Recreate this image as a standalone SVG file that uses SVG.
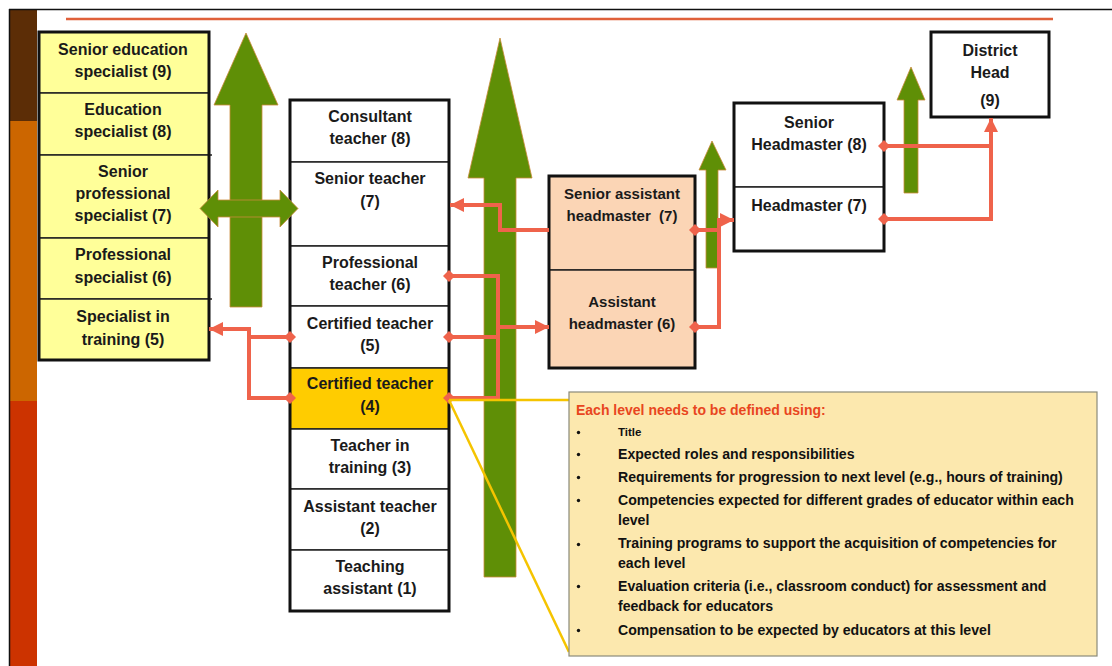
<svg xmlns="http://www.w3.org/2000/svg" width="1112" height="666" viewBox="0 0 1112 666">
<style>
.t{font-family:"Liberation Sans",Arial,sans-serif;font-weight:bold;font-size:16px;fill:#1a1a1a;text-anchor:middle}
.ts{font-size:15px}
.cell{stroke:#222;stroke-width:1.5}
.outer{fill:none;stroke:#111;stroke-width:3}
.yel{fill:#ffff99}
.wht{fill:#ffffff}
.peach{fill:#fbd5b5}
.gold{fill:#ffcc00}
.green{fill:#5f8f06;stroke:#c98a3a;stroke-width:0.8}
.conn{fill:none;stroke:#ef634b;stroke-width:4}
.call{fill:none;stroke:#f5c400;stroke-width:2.5}
.ct{font-family:"Liberation Sans",Arial,sans-serif;font-weight:bold;font-size:14.1px;fill:#111}
.bul{fill:#111}
</style>
<defs>
<marker id="arr" viewBox="0 0 10 10" refX="10" refY="5" markerWidth="3.6" markerHeight="3.6" orient="auto"><path d="M0,0 L10,5 L0,10 z" fill="#ef634b"/></marker>
<marker id="dia" viewBox="0 0 10 10" refX="5" refY="5" markerWidth="3" markerHeight="3" orient="auto"><path d="M5,0 L10,5 L5,10 L0,5 z" fill="#ef634b"/></marker>
</defs>
<rect width="1112" height="666" fill="#ffffff"/>
<!-- slide frame -->
<g id="frame">
<rect x="10" y="10" width="27" height="111" fill="#5c2d06"/>
<rect x="10" y="121" width="27" height="280" fill="#cc6600"/>
<rect x="10" y="401" width="27" height="265" fill="#cc3300"/>
<line x1="9" y1="9.5" x2="1112" y2="9.5" stroke="#111" stroke-width="1.5"/>
<line x1="9.5" y1="9" x2="9.5" y2="666" stroke="#111" stroke-width="1.5"/>
<line x1="66" y1="19" x2="1053" y2="19" stroke="#e0603a" stroke-width="2.5"/>
</g>
<!-- green progression arrows (behind) -->
<g id="arrows-green">
<polygon class="green" points="230,307 230,105 214,105 246,33 278,105 262,105 262,307"/>
<polygon class="green" points="484,577 484,178 468,178 500,38 532,178 516,178 516,577"/>
<polygon class="green" points="706,268 706,170 699,170 712,141 726,170 718,170 718,268"/>
<polygon class="green" points="904,193 904,100 897,100 911,67 925,100 918,100 918,193"/>
</g>
<!-- specialist column -->
<g id="senior-education-specialist"><rect class="cell yel" x="39" y="32" width="170" height="61"/><text class="t" x="123" y="55">Senior education</text><text class="t" x="123" y="77">specialist (9)</text></g>
<g id="education-specialist"><rect class="cell yel" x="39" y="93" width="170" height="62"/><text class="t" x="123" y="115">Education</text><text class="t" x="123" y="137">specialist (8)</text></g>
<g id="senior-professional-specialist"><rect class="cell yel" x="39" y="155" width="170" height="83"/><line x1="209" y1="155" x2="212" y2="155" stroke="#222" stroke-width="1.5"/><text class="t" x="123" y="177">Senior</text><text class="t" x="123" y="199">professional</text><text class="t" x="123" y="221">specialist (7)</text></g>
<g id="professional-specialist"><rect class="cell yel" x="39" y="238" width="170" height="61"/><text class="t" x="123" y="260">Professional</text><text class="t" x="123" y="283">specialist (6)</text></g>
<g id="specialist-in-training"><rect class="cell yel" x="39" y="299" width="170" height="61"/><line x1="209" y1="299" x2="212" y2="299" stroke="#222" stroke-width="1.5"/><text class="t" x="123" y="322">Specialist in</text><text class="t" x="123" y="345">training (5)</text></g>
<rect class="outer" x="39" y="32" width="170" height="328"/>
<!-- teacher column -->
<g id="consultant-teacher"><rect class="cell wht" x="290" y="100" width="159" height="62"/><text class="t" x="370" y="122">Consultant</text><text class="t" x="370" y="144">teacher (8)</text></g>
<g id="senior-teacher"><rect class="cell wht" x="290" y="162" width="159" height="84"/><text class="t" x="370" y="184">Senior teacher</text><text class="t" x="370" y="207">(7)</text></g>
<g id="professional-teacher"><rect class="cell wht" x="290" y="246" width="159" height="60"/><text class="t" x="370" y="268">Professional</text><text class="t" x="370" y="290">teacher (6)</text></g>
<g id="certified-teacher-5"><rect class="cell wht" x="290" y="306" width="159" height="62"/><text class="t" x="370" y="329">Certified teacher</text><text class="t" x="370" y="351">(5)</text></g>
<g id="certified-teacher-4"><rect class="cell gold" x="290" y="368" width="159" height="61"/><text class="t" x="370" y="389">Certified teacher</text><text class="t" x="370" y="412">(4)</text></g>
<g id="teacher-in-training"><rect class="cell wht" x="290" y="429" width="159" height="60"/><text class="t" x="370" y="451">Teacher in</text><text class="t" x="370" y="473">training (3)</text></g>
<g id="assistant-teacher"><rect class="cell wht" x="290" y="489" width="159" height="61"/><text class="t" x="370" y="512">Assistant teacher</text><text class="t" x="370" y="534">(2)</text></g>
<g id="teaching-assistant"><rect class="cell wht" x="290" y="550" width="159" height="61"/><text class="t" x="370" y="572">Teaching</text><text class="t" x="370" y="594">assistant (1)</text></g>
<rect class="outer" x="290" y="100" width="159" height="511"/>
<!-- assistant headmaster column -->
<g id="senior-assistant-headmaster"><rect class="cell peach" x="549" y="176" width="146" height="94"/><text class="t ts" x="622" y="199">Senior assistant</text><text class="t ts" x="622" y="221" xml:space="preserve">headmaster  (7)</text></g>
<g id="assistant-headmaster"><rect class="cell peach" x="549" y="270" width="146" height="98"/><text class="t ts" x="622" y="307">Assistant</text><text class="t ts" x="622" y="329">headmaster (6)</text></g>
<rect class="outer" x="549" y="176" width="146" height="192"/>
<!-- headmaster column -->
<g id="senior-headmaster"><rect class="cell wht" x="734" y="103" width="150" height="84"/><text class="t" x="809" y="128">Senior</text><text class="t" x="809" y="150">Headmaster (8)</text></g>
<g id="headmaster"><rect class="cell wht" x="734" y="187" width="150" height="64"/><text class="t" x="809" y="211">Headmaster (7)</text></g>
<rect class="outer" x="734" y="103" width="150" height="148"/>
<g id="district-head"><rect class="outer" x="931" y="32" width="118" height="85" style="fill:#fff"/><text class="t" x="990" y="56">District</text><text class="t" x="990" y="78">Head</text><text class="t" x="990" y="106">(9)</text></g>
<!-- lateral double arrow -->
<g id="lateral-arrow"><polygon class="green" points="200,208.5 218,190 218,200 280,200 280,190 298,208.5 280,227 280,217 218,217 218,227"/></g>
<!-- connectors -->
<g id="connectors">
<path class="conn" d="M884,219 H991 V118" marker-start="url(#dia)" marker-end="url(#arr)"/>
<path class="conn" d="M884,146 H991" marker-start="url(#dia)"/>
<path class="conn" d="M695,327 H719 V220 H734" marker-start="url(#dia)" marker-end="url(#arr)"/>
<path class="conn" d="M695,230 H719" marker-start="url(#dia)"/>
<path class="conn" d="M549,230 H500 V205 H450" marker-end="url(#arr)"/>
<path class="conn" d="M449,276 H498 V398 H449" marker-start="url(#dia)" marker-end="url(#dia)"/>
<path class="conn" d="M449,337 H498" marker-start="url(#dia)"/>
<path class="conn" d="M498,327 H549" marker-end="url(#arr)"/>
<path class="conn" d="M290,398 H249 V329 H209" marker-start="url(#dia)" marker-end="url(#arr)"/>
<path class="conn" d="M290,337 H249" marker-start="url(#dia)"/>
<path class="call" d="M449,400 H569"/>
<path class="call" d="M449,400 L569,652"/>
</g>
<!-- callout -->
<g id="level-definition-callout">
<rect x="569" y="392" width="528" height="264" fill="#fce8ae" stroke="#8a8a7a" stroke-width="1.2"/>
<text class="ct" x="576" y="415" style="fill:#e8461e;font-size:14px">Each level needs to be defined using:</text>
<circle class="bul" cx="578.5" cy="432.5" r="1.7"/>
<circle class="bul" cx="578.5" cy="454.5" r="1.7"/>
<circle class="bul" cx="578.5" cy="477.5" r="1.7"/>
<circle class="bul" cx="578.5" cy="500.5" r="1.7"/>
<circle class="bul" cx="578.5" cy="544.5" r="1.7"/>
<circle class="bul" cx="578.5" cy="586.5" r="1.7"/>
<circle class="bul" cx="578.5" cy="630.5" r="1.7"/>
<text class="ct" x="618" y="436" style="font-size:11.5px">Title</text>
<text class="ct" x="618" y="459">Expected roles and responsibilities</text>
<text class="ct" x="618" y="482">Requirements for progression to next level (e.g., hours of training)</text>
<text class="ct" x="618" y="505">Competencies expected for different grades of educator within each</text>
<text class="ct" x="618" y="525">level</text>
<text class="ct" x="618" y="548">Training programs to support the acquisition of competencies for</text>
<text class="ct" x="618" y="568">each level</text>
<text class="ct" x="618" y="591">Evaluation criteria (i.e., classroom conduct) for assessment and</text>
<text class="ct" x="618" y="611">feedback for educators</text>
<text class="ct" x="618" y="635">Compensation to be expected by educators at this level</text>
</g>
</svg>
